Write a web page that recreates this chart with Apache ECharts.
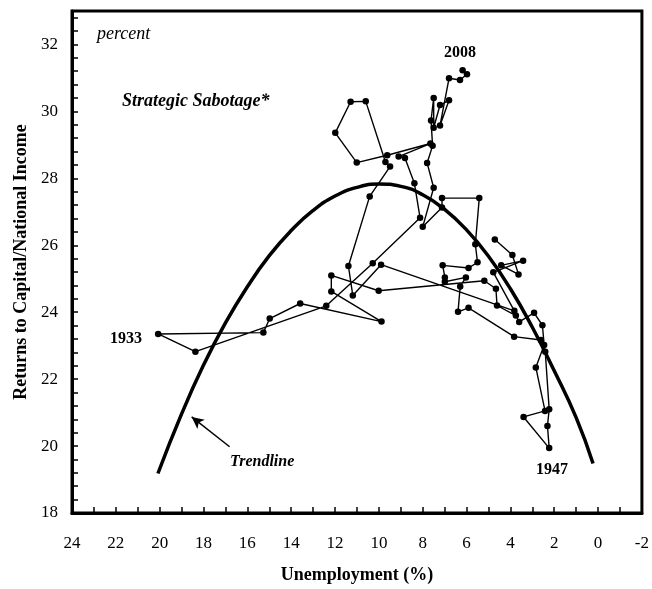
<!DOCTYPE html>
<html><head><meta charset="utf-8">
<script src="https://cdn.jsdelivr.net/npm/echarts@6/dist/echarts.min.js"></script>
<style>html,body{margin:0;padding:0;background:#fff}#c{width:652px;height:589px}</style>
</head><body><div id="c"></div>
<script>
const pathUnemployment = [4.71,3.91,3.63,4.42,3.42,4.78,3.82,9.90,11.19,11.39,10.42,9.49,9.70,10.60,11.29,11.99,11.01,9.62,7.65,9.10,8.81,8.38,8.12,10.28,12.40,18.37,20.07,15.27,14.98,13.59,9.88,12.17,12.17,10.01,5.19,4.66,4.61,3.75,3.60,2.92,2.54,2.46,2.84,2.42,3.40,2.23,2.31,2.23,2.41,2.61,3.83,5.91,6.39,6.29,6.03,6.99,6.99,7.09,5.91,5.50,5.60,5.42,7.12,7.12,8.00,7.50,7.80,7.55,7.62,7.50,7.50,7.21,6.80,7.21,6.80,6.30,5.98,6.18];
const pathReturns = [26.17,25.71,25.13,25.40,25.54,25.19,24.04,25.42,24.50,25.38,27.46,28.35,28.49,30.30,30.29,29.36,28.47,28.69,29.04,28.65,28.61,27.85,26.82,25.46,24.19,22.82,23.35,23.39,23.81,24.26,23.72,24.62,25.10,24.64,24.94,24.70,24.20,23.90,23.71,23.98,23.61,23.02,22.35,21.05,20.87,19.94,20.60,21.10,22.82,23.17,23.27,24.13,24.01,24.77,25.04,24.91,25.04,25.40,25.32,25.49,26.03,27.41,27.41,27.13,26.55,27.72,28.46,28.97,29.73,30.40,29.51,30.19,30.33,29.58,30.99,30.94,31.11,31.23];
// trendline
const trendUnemployment = [20.08,19,18,17,16,15,14,13,12,11,10,9,8,7,6,5,4,3,2,1,0.23];
const trendReturns = [19.18,20.96,22.42,23.68,24.76,25.69,26.44,27.04,27.47,27.73,27.83,27.76,27.51,27.07,26.46,25.67,24.70,23.55,22.25,20.85,19.48];
const xRange = [-2, 24];
const yRange = [18, 33];

const pathData = pathUnemployment.map((x,i)=>[x, pathReturns[i]]);
const trendData = trendUnemployment.map((x,i)=>[x, trendReturns[i]]);
const serif = 'Liberation Serif, Times New Roman, serif';

const chart = echarts.init(document.getElementById('c'), null, {renderer:'canvas'});
chart.setOption({
  animation:false,
  backgroundColor:'#fff',
  grid:{left:72,right:9,top:11,bottom:71,show:true,borderColor:'#000',borderWidth:3,backgroundColor:'transparent'},
  xAxis:{
    type:'value', inverse:true, min:xRange[0], max:xRange[1], interval:2,
    name:'Unemployment (%)', nameLocation:'middle', nameGap:53,
    nameTextStyle:{fontFamily:serif,fontWeight:'bold',fontSize:18,color:'#000'},
    axisLine:{show:true,onZero:false,lineStyle:{color:'#000',width:3}},
    axisTick:{show:true,inside:true,length:6,lineStyle:{color:'#000',width:1.5}},
    minorTick:{show:true,splitNumber:2,length:6,lineStyle:{color:'#000',width:1.5}},
    splitLine:{show:false},
    axisLabel:{fontFamily:serif,fontSize:17,color:'#000',margin:22}
  },
  yAxis:{
    type:'value', min:yRange[0], max:yRange[1], interval:2,
    name:'Returns to Capital/National Income', nameLocation:'middle', nameGap:42,
    nameTextStyle:{fontFamily:serif,fontWeight:'bold',fontSize:18,color:'#000'},
    axisLine:{show:true,onZero:false,lineStyle:{color:'#000',width:3}},
    axisTick:{show:true,inside:true,length:6,lineStyle:{color:'#000',width:1.5}},
    minorTick:{show:true,splitNumber:5,length:6,lineStyle:{color:'#000',width:1.5}},
    splitLine:{show:false},
    axisLabel:{fontFamily:serif,fontSize:17,color:'#000',margin:14,showMaxLabel:false}
  },
  series:[
    {type:'line',data:trendData,smooth:true,symbol:'none',lineStyle:{color:'#000',width:3.5},z:3,
     markLine:{silent:true,symbol:['none','arrow'],symbolSize:[9,12],label:{show:false},
       lineStyle:{color:'#000',width:1.5,type:'solid'},
       data:[[{coord:[16.81,19.98]},{coord:[18.54,20.87]}]]}},
    {type:'line',data:pathData,symbol:'circle',symbolSize:6.5,itemStyle:{color:'#000'},lineStyle:{color:'#000',width:1.4},z:4}
  ],
  graphic:[
    {type:'text',left:97,top:25,style:{text:'percent',font:'italic 18px '+serif,fill:'#000'}},
    {type:'text',left:122,top:92,style:{text:'Strategic Sabotage*',font:'italic bold 18px '+serif,fill:'#000'}},
    {type:'text',left:444,top:45,style:{text:'2008',font:'bold 16px '+serif,fill:'#000'}},
    {type:'text',left:110,top:331,style:{text:'1933',font:'bold 16px '+serif,fill:'#000'}},
    {type:'text',left:536,top:462,style:{text:'1947',font:'bold 16px '+serif,fill:'#000'}},
    {type:'text',left:230,top:454,style:{text:'Trendline',font:'italic bold 16px '+serif,fill:'#000'}}
  ]
});
</script></body></html>
